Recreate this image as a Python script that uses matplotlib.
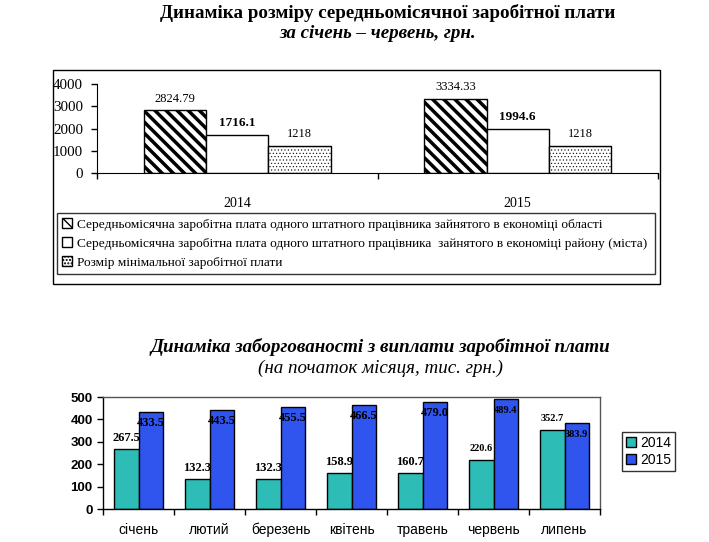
import matplotlib
matplotlib.use('Agg')
import matplotlib.pyplot as plt
from matplotlib.patches import Rectangle
import numpy as np

W, H = 709, 542

# top chart data
years = ['2014', '2015']
oblast_wage = [2824.79, 3334.33]
rayon_wage = [1716.1, 1994.6]
min_wage = [1218, 1218]
top_legend = [
    'Середньомісячна заробітна плата одного штатного працівника зайнятого в економіці області',
    'Середньомісячна заробітна плата одного штатного працівника  зайнятого в економіці району (міста)',
    'Розмір мінімальної заробітної плати',
]

# bottom chart data
months = ['січень', 'лютий', 'березень', 'квітень', 'травень', 'червень', 'липень']
debt_2014 = [267.5, 132.3, 132.3, 158.9, 160.7, 220.6, 352.7]
debt_2015 = [433.5, 443.5, 455.5, 466.5, 479.0, 489.4, 383.9]

SERIF = 'Liberation Serif'
SANS = 'Liberation Sans'


def px(x0, y0, x1, y1):
    return [x0 / W, 1 - y1 / H, (x1 - x0) / W, (y1 - y0) / H]


fig = plt.figure(figsize=(W / 100, H / 100), dpi=100)

# ---- top chart ----
fig.text(388 / W, 1 - 13 / H, 'Динаміка розміру середньомісячної заробітної плати',
         ha='center', va='center', family=SERIF, weight='bold', fontsize=13.7)
fig.text(378 / W, 1 - 33 / H, 'за січень – червень, грн.',
         ha='center', va='center', family=SERIF, weight='bold', style='italic', fontsize=13.7)

fig.patches.append(Rectangle((53 / W, 1 - 284 / H), 607 / W, 214 / H, transform=fig.transFigure,
                             fill=False, edgecolor='black', linewidth=1))

ax1 = fig.add_axes(px(97, 84, 658, 173))
x = np.arange(len(years))
bw = 0.222
with plt.rc_context({'hatch.linewidth': 2.5}):
    b1 = ax1.bar(x - bw, oblast_wage, bw, facecolor='white', edgecolor='black',
                 hatch='\\\\\\', linewidth=1)
b2 = ax1.bar(x, rayon_wage, bw, facecolor='white', edgecolor='black', linewidth=1)
with plt.rc_context({'hatch.linewidth': 0.4}):
    b3 = ax1.bar(x + bw, min_wage, bw, facecolor='white', edgecolor='black',
                 hatch='.....', linewidth=1)

for xi, v in zip(x, oblast_wage):
    ax1.annotate(f'{v:.2f}', (xi - bw, v), xytext=(0, 4), textcoords='offset points',
                 ha='center', va='bottom', family=SERIF, fontsize=9)
for xi, v in zip(x, rayon_wage):
    ax1.annotate(f'{v:.1f}', (xi, v), xytext=(0, 4), textcoords='offset points',
                 ha='center', va='bottom', family=SERIF, fontsize=9.5, weight='bold')
for xi, v in zip(x, min_wage):
    ax1.annotate(f'{v}', (xi + bw, v), xytext=(0, 4), textcoords='offset points',
                 ha='center', va='bottom', family=SERIF, fontsize=9)

ax1.set_xlim(-0.5, 1.5)
ax1.set_ylim(0, 4000)
ax1.set_yticks([0, 1000, 2000, 3000, 4000])
ax1.set_xticks([-0.5, 0.5, 1.5])
ax1.set_xticklabels([])
ax1.set_xticks(x, minor=True)
ax1.set_xticklabels(years, minor=True, family=SERIF, fontsize=10)
ax1.tick_params(axis='x', which='minor', length=0, pad=17)
ax1.tick_params(axis='both', which='major', direction='out', length=4, width=1)
ax1.tick_params(axis='y', pad=6)
for lab in ax1.get_yticklabels():
    lab.set_family(SERIF)
    lab.set_fontsize(10.8)
ax1.spines['top'].set_visible(False)
ax1.spines['right'].set_visible(False)
ax1.patch.set_visible(False)

leg1 = fig.legend([b1, b2, b3], top_legend, loc='upper left',
                  bbox_to_anchor=(57 / W, 1 - 272 / H, 598 / W, 59 / H), mode='expand',
                  prop={'family': SERIF, 'size': 9.6}, frameon=True, fancybox=False,
                  edgecolor='black', handlelength=0.7, handleheight=0.7, handletextpad=0.4,
                  labelspacing=0.5, borderpad=0.4, borderaxespad=0)
leg1.get_frame().set_linewidth(1)

# ---- bottom chart ----
fig.text(380 / W, 1 - 347 / H, 'Динаміка заборгованості з виплати заробітної плати',
         ha='center', va='center', family=SERIF, weight='bold', style='italic', fontsize=13.7)
fig.text(380 / W, 1 - 368 / H, '(на початок місяця, тис. грн.)',
         ha='center', va='center', family=SERIF, style='italic', fontsize=13.7)

ax2 = fig.add_axes(px(103, 397, 600, 509))
xm = np.arange(len(months))
bw2 = 0.34
c14 = ax2.bar(xm - bw2 / 2, debt_2014, bw2, color='#2EBDB6', edgecolor='black', linewidth=1,
              label='2014')
c15 = ax2.bar(xm + bw2 / 2, debt_2015, bw2, color='#2F55EE', edgecolor='black', linewidth=1,
              label='2015')
for i, (a, b) in enumerate(zip(debt_2014, debt_2015)):
    fs = 9 if i < 5 else 7.5
    ax2.annotate(f'{a:.1f}', (i - bw2 / 2, a), xytext=(0, 8), textcoords='offset points',
                 ha='center', va='center', family=SERIF, weight='bold', fontsize=fs)
    ax2.annotate(f'{b:.1f}', (i + bw2 / 2, b), xytext=(0, -8), textcoords='offset points',
                 ha='center', va='center', family=SERIF, weight='bold', fontsize=fs)

ax2.set_xlim(-0.5, len(months) - 0.5)
ax2.set_ylim(0, 500)
ax2.set_yticks(range(0, 501, 100))
ax2.set_xticks(np.arange(-0.5, len(months), 1.0))
ax2.set_xticklabels([])
ax2.set_xticks(xm, minor=True)
ax2.set_xticklabels(months, minor=True, family=SANS, fontsize=10)
ax2.tick_params(axis='x', which='minor', length=0, pad=10)
ax2.tick_params(axis='both', which='major', direction='out', length=4, width=1)
for lab in ax2.get_yticklabels():
    lab.set_family(SANS)
    lab.set_weight('bold')
    lab.set_fontsize(9.5)
for s in ax2.spines.values():
    s.set_linewidth(1)
ax2.spines['top'].set_color('#555555')
ax2.spines['right'].set_color('#555555')

leg2 = fig.legend([c14, c15], ['2014', '2015'], loc='upper left',
                  bbox_to_anchor=(622 / W, 1 - 432 / H), prop={'family': SANS, 'size': 10},
                  frameon=True, fancybox=False, edgecolor='black', handlelength=0.7,
                  handleheight=0.7, handletextpad=0.3, labelspacing=0.2, borderpad=0.3,
                  borderaxespad=0)
leg2.get_frame().set_linewidth(1)

fig.savefig('out.png', dpi=100)
